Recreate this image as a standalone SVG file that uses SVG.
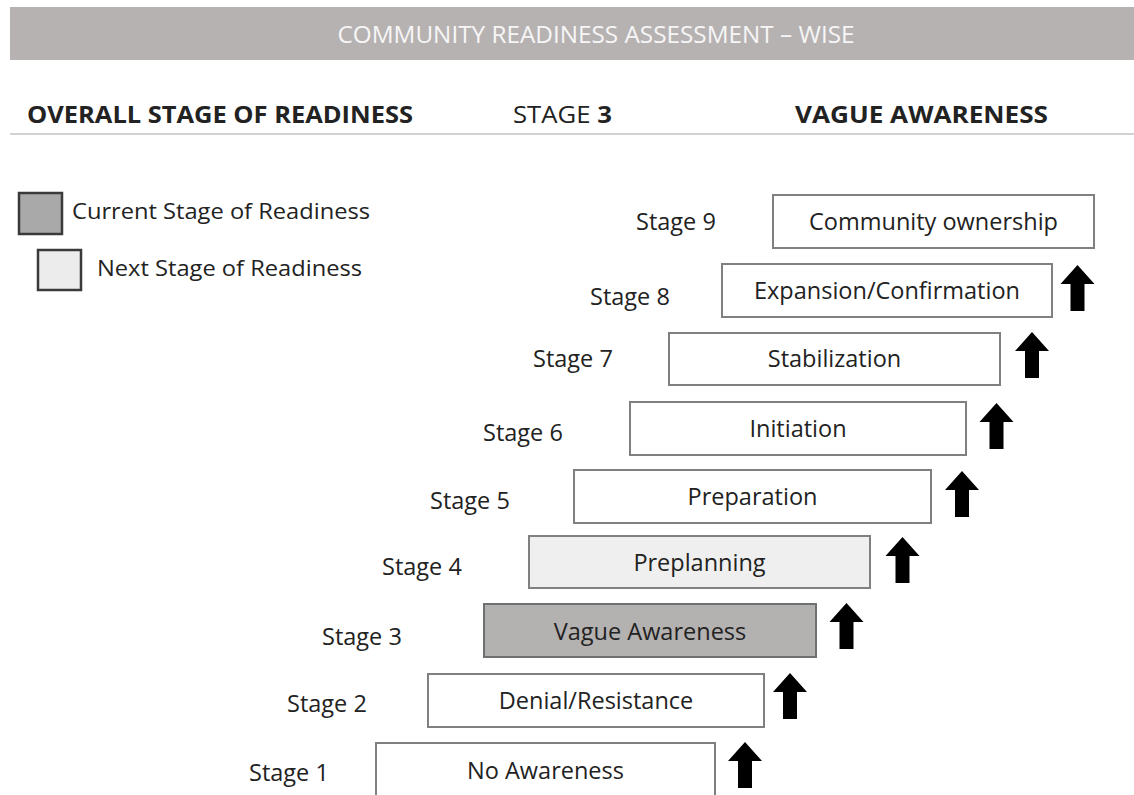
<svg xmlns="http://www.w3.org/2000/svg" xmlns:xlink="http://www.w3.org/1999/xlink" width="1134" height="795" viewBox="0 0 1134 795">
  <defs>
    <style>
      .t { font-family: "Open Sans", "Noto Sans", "DejaVu Sans", sans-serif; fill: #222; }
      .hdr { font-size: 23px; }
      .b { font-weight: bold; }
      .lbl { font-size: 23.5px; }
      .btxt { font-size: 23.5px; text-anchor: middle; }
      .leg { font-size: 22px; }
      .box { fill: #ffffff; stroke: #808080; stroke-width: 2; }
      .box-next { fill: #efefef; stroke: #808080; stroke-width: 2; }
      .box-cur { fill: #b4b1b1; stroke: #707070; stroke-width: 2; }
      .arrow { fill: #000000; }
    </style>
    <path id="uparrow" d="M0,0 L17,19 L7,19 L7,46 L-7,46 L-7,19 L-17,19 Z"/>
  </defs>
  <rect width="1134" height="795" fill="#ffffff"/>

  <g id="header">
    <rect x="10" y="7" width="1124" height="53" fill="#b6b2b2"/>
    <text class="t" x="596" y="43" font-size="24" text-anchor="middle" style="fill:#f6f6f6" textLength="517" lengthAdjust="spacingAndGlyphs">COMMUNITY READINESS ASSESSMENT – WISE</text>
    <text class="t hdr b" x="27" y="123" textLength="386" lengthAdjust="spacingAndGlyphs">OVERALL STAGE OF READINESS</text>
    <text class="t hdr" x="513" y="123" textLength="99" lengthAdjust="spacingAndGlyphs">STAGE <tspan font-weight="bold">3</tspan></text>
    <text class="t hdr b" x="795" y="123" textLength="253" lengthAdjust="spacingAndGlyphs">VAGUE AWARENESS</text>
    <rect x="10" y="133" width="1124" height="2" fill="#d2d2d2"/>
  </g>

  <g id="legend">
    <rect x="19" y="193" width="43" height="41" fill="#a9a9a9" stroke="#3a3a3a" stroke-width="2.5"/>
    <text class="t leg" x="72" y="219" textLength="298" lengthAdjust="spacingAndGlyphs">Current Stage of Readiness</text>
    <rect x="38" y="250" width="43" height="40" fill="#ececec" stroke="#3a3a3a" stroke-width="2.5"/>
    <text class="t leg" x="97" y="276" textLength="265" lengthAdjust="spacingAndGlyphs">Next Stage of Readiness</text>
  </g>

  <g id="stage9">
    <text class="t lbl" x="636" y="230">Stage 9</text>
    <rect class="box" x="773" y="195" width="321" height="53"/>
    <text class="t btxt" x="933.5" y="230">Community ownership</text>
  </g>
  <g id="stage8">
    <text class="t lbl" x="590" y="305">Stage 8</text>
    <rect class="box" x="722" y="264" width="330" height="53"/>
    <text class="t btxt" x="887" y="299">Expansion/Confirmation</text>
  </g>
  <g id="stage7">
    <text class="t lbl" x="533" y="367">Stage 7</text>
    <rect class="box" x="669" y="333" width="331" height="52"/>
    <text class="t btxt" x="834.5" y="367">Stabilization</text>
  </g>
  <g id="stage6">
    <text class="t lbl" x="483" y="441">Stage 6</text>
    <rect class="box" x="630" y="402" width="336" height="53"/>
    <text class="t btxt" x="798" y="437">Initiation</text>
  </g>
  <g id="stage5">
    <text class="t lbl" x="430" y="509">Stage 5</text>
    <rect class="box" x="574" y="470" width="357" height="53"/>
    <text class="t btxt" x="752.5" y="505">Preparation</text>
  </g>
  <g id="stage4">
    <text class="t lbl" x="382" y="575">Stage 4</text>
    <rect class="box-next" x="529" y="536" width="341" height="52"/>
    <text class="t btxt" x="699.5" y="571">Preplanning</text>
  </g>
  <g id="stage3">
    <text class="t lbl" x="322" y="645">Stage 3</text>
    <rect class="box-cur" x="484" y="604" width="332" height="53"/>
    <text class="t btxt" x="650" y="640">Vague Awareness</text>
  </g>
  <g id="stage2">
    <text class="t lbl" x="287" y="712">Stage 2</text>
    <rect class="box" x="428" y="674" width="336" height="53"/>
    <text class="t btxt" x="596" y="709">Denial/Resistance</text>
  </g>
  <g id="stage1">
    <text class="t lbl" x="249" y="781">Stage 1</text>
    <rect class="box" x="376" y="743" width="339" height="53"/>
    <text class="t btxt" x="545.5" y="779">No Awareness</text>
  </g>

  <g id="connectors" class="arrow">
    <use xlink:href="#uparrow" href="#uparrow" x="745" y="742"/>
    <use xlink:href="#uparrow" href="#uparrow" x="790" y="673"/>
    <use xlink:href="#uparrow" href="#uparrow" x="846.5" y="603"/>
    <use xlink:href="#uparrow" href="#uparrow" x="902.5" y="537"/>
    <use xlink:href="#uparrow" href="#uparrow" x="962" y="471"/>
    <use xlink:href="#uparrow" href="#uparrow" x="996.5" y="403"/>
    <use xlink:href="#uparrow" href="#uparrow" x="1032" y="332"/>
    <use xlink:href="#uparrow" href="#uparrow" x="1077.5" y="265"/>
  </g>
</svg>
